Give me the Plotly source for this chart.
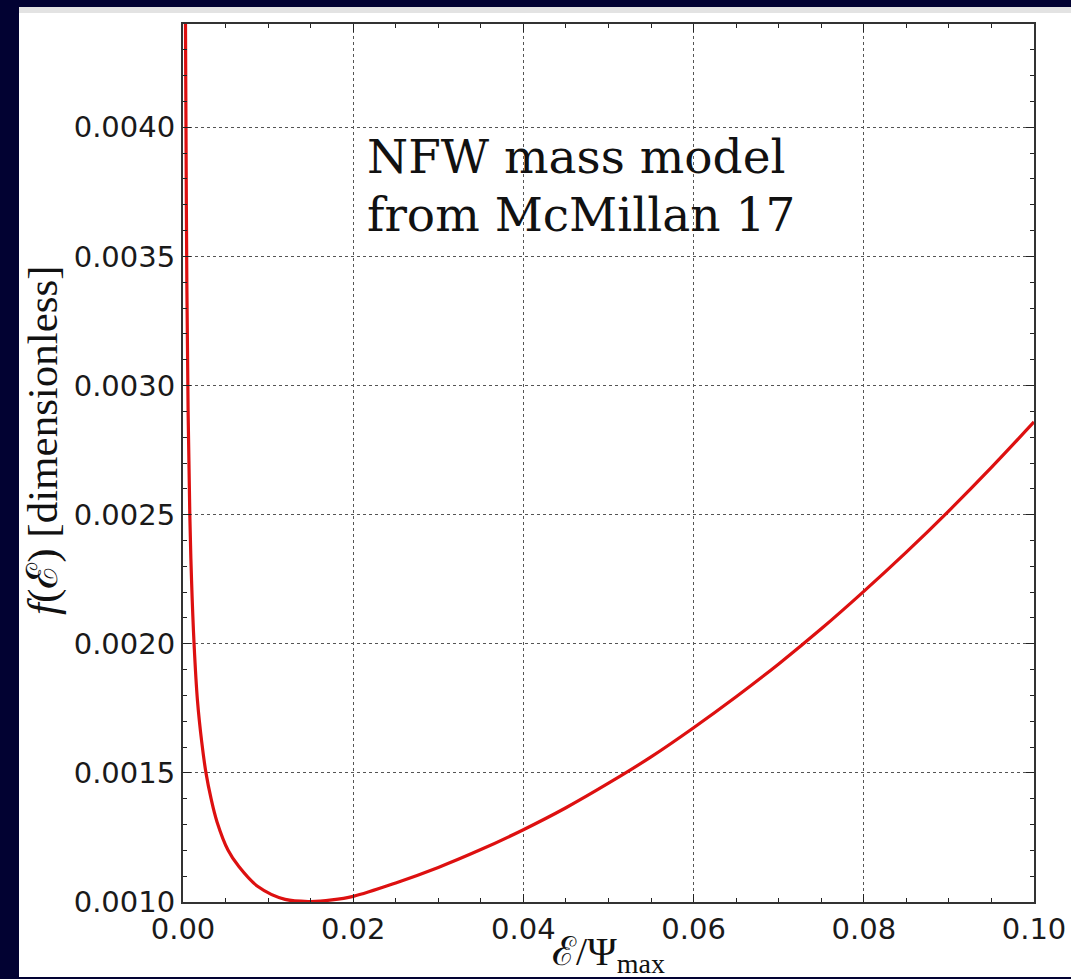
import plotly.graph_objects as go

# Data
energy = [0.00015, 0.0002, 0.00028, 0.00035, 0.00045, 0.0006, 0.0008, 0.001, 0.0013,
          0.0017, 0.0022, 0.0027, 0.0033, 0.0040, 0.0053, 0.0065, 0.0088, 0.012,
          0.015, 0.0175, 0.02, 0.025, 0.03, 0.035, 0.04, 0.045, 0.05, 0.055, 0.06, 0.065,
          0.07, 0.075, 0.08, 0.085, 0.09, 0.095, 0.10]
f_values = [0.0068, 0.0057, 0.0045, 0.0040, 0.0034, 0.0029, 0.0025, 0.00225, 0.0020,
            0.00178, 0.00162, 0.0015, 0.0014, 0.00131, 0.0012, 0.00114, 0.00106, 0.00101,
            0.001002, 0.001008, 0.001022, 0.001074, 0.001134, 0.001203, 0.00128, 0.001365,
            0.00146, 0.001562, 0.001675, 0.001795, 0.001922, 0.002058, 0.002203, 0.002355,
            0.002515, 0.002683, 0.002859]

x_ticks = [0.00, 0.02, 0.04, 0.06, 0.08, 0.10]
y_ticks = [0.0010, 0.0015, 0.0020, 0.0025, 0.0030, 0.0035, 0.0040]

W, H = 1071, 979
L, R, T, B = 183, 1034, 24, 902
pw, ph = R - L, B - T

def px(xp):
    return (xp - L) / pw

def py(yp):
    return (B - yp) / ph

fig = go.Figure()
fig.add_trace(go.Scatter(x=energy, y=f_values, mode="lines",
                         line=dict(color="#dd1010", width=3.2, shape="spline", smoothing=1.0),
                         hoverinfo="skip", showlegend=False))

axis_common = dict(
    showline=True, linecolor="#333333", linewidth=2, mirror="allticks",
    ticks="inside", ticklen=8, tickwidth=1.2, tickcolor="#222222",
    showgrid=True, gridcolor="#555555", gridwidth=1, griddash="dot",
    zeroline=False, automargin=False,
    tickfont=dict(family="DejaVu Sans", size=29, color="#1a1a1a"),
)

fig.update_xaxes(range=[0, 0.1], tickvals=x_ticks, tickformat=".2f",
                 minor=dict(ticks="inside", dtick=0.005, ticklen=4, tickcolor="#222222", showgrid=False),
                 title=dict(text="ℰ/Ψ<sub>max</sub>", font=dict(family="Liberation Serif", size=40, color="#111111"),
                            standoff=4),
                 **axis_common)
fig.update_yaxes(range=[0.001, 0.0044], tickvals=y_ticks, tickformat=".4f",
                 minor=dict(ticks="inside", dtick=0.0001, ticklen=4, tickcolor="#222222", showgrid=False),
                 **axis_common)

shapes = [
    dict(type="rect", xref="paper", yref="paper", x0=px(19), x1=px(1075), y0=py(977), y1=py(7),
         fillcolor="white", line=dict(width=0), layer="below"),
    dict(type="rect", xref="paper", yref="paper", x0=px(19), x1=px(1075), y0=py(13), y1=py(7),
         fillcolor="#e3e3e3", line=dict(width=0), layer="below"),
]

note_font = dict(family="DejaVu Serif", size=47, color="#111111")
fig.update_layout(
    width=W, height=H,
    margin=dict(l=L, r=W - R, t=T, b=H - B, autoexpand=False),
    paper_bgcolor="#020232", plot_bgcolor="white",
    shapes=shapes,
    annotations=[
        dict(x=0.0214, y=0.003887, xref="x", yref="y", xanchor="left", yanchor="middle",
             showarrow=False, text="NFW mass model", font=note_font),
        dict(x=0.0214, y=0.003664, xref="x", yref="y", xanchor="left", yanchor="middle",
             showarrow=False, text="from McMillan 17", font=note_font),
        dict(x=px(43), y=py(440), xref="paper", yref="paper", xanchor="center", yanchor="middle",
             showarrow=False, textangle=-90, text="<i>f</i>(ℰ) [dimensionless]",
             font=dict(family="Liberation Serif", size=43, color="#111111")),
    ],
)

fig.write_html("out.html")
